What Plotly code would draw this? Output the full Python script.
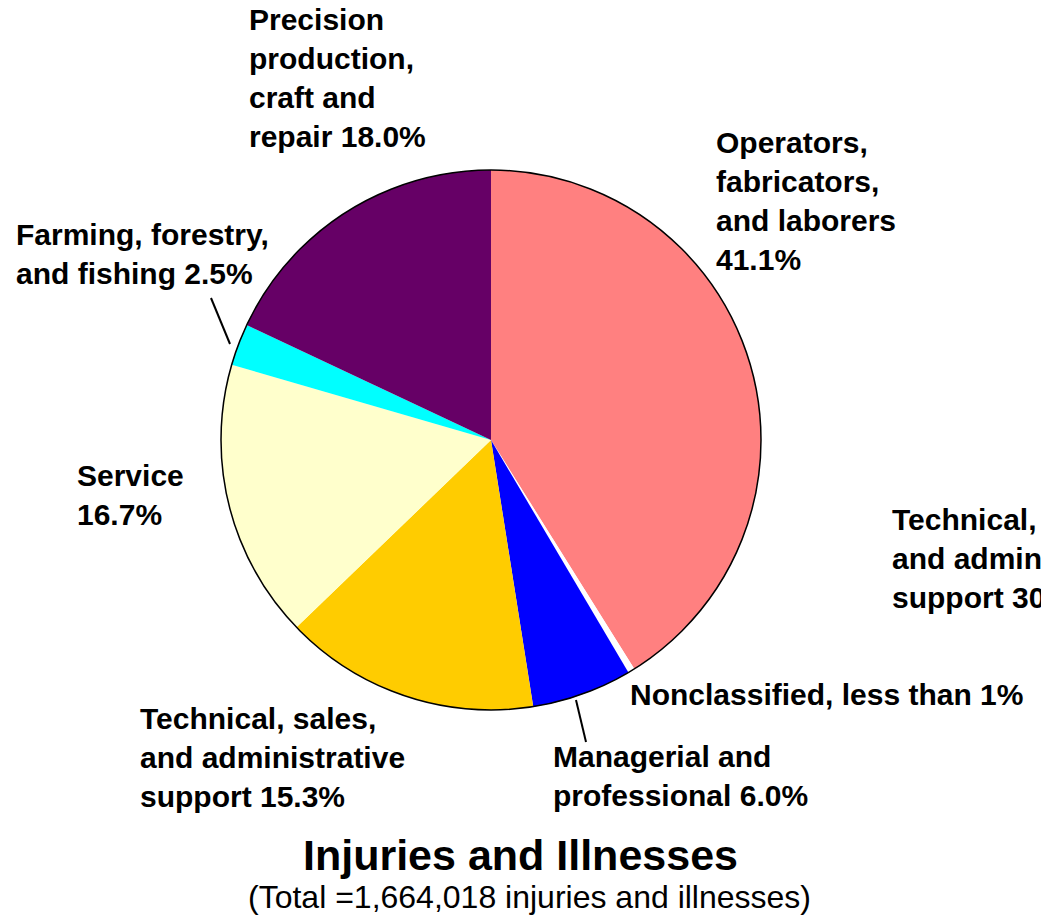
import plotly.graph_objects as go

# occupational groups, clockwise from 12 o'clock
groups = ["Operators, fabricators, and laborers", "Nonclassified",
          "Managerial and professional", "Technical, sales, and administrative support",
          "Service", "Farming, forestry, and fishing", "Precision production, craft and repair"]
shares = [41.1, 0.4, 6.0, 15.3, 16.7, 2.5, 18.0]
colors = ["#FF8080", "#FFFFFF", "#0000FF", "#FFCC00", "#FFFFCC", "#00FFFF", "#660066"]

W, H = 1049, 920
OFF = 8  # page body margin shifts the figure by 8px


def px(x):
    return (x - OFF) / W


def py(y):
    return 1 - (y - OFF) / H


dom_x = [px(221), px(761)]
dom_y = [py(710), py(170)]

fig = go.Figure()
fig.add_trace(go.Pie(labels=groups, values=shares, sort=False, direction="clockwise",
                     rotation=0, marker=dict(colors=colors, line=dict(width=0)),
                     textinfo="none", hoverinfo="label+percent", showlegend=False,
                     domain=dict(x=dom_x, y=dom_y)))
# black rim around the whole pie
fig.add_trace(go.Pie(values=[1], marker=dict(colors=["rgba(0,0,0,0)"], line=dict(color="black", width=1.5)),
                     textinfo="none", hoverinfo="skip", showlegend=False, sort=False,
                     domain=dict(x=dom_x, y=dom_y)))

lab = dict(family="Liberation Sans, Arial, sans-serif", size=30, color="black")

# (text, left x px, middle y px)
labels = [
    ("<b>Precision<br>production,<br>craft and<br>repair 18.0%</b>", 247, 78),
    ("<b>Operators,<br>fabricators,<br>and laborers<br>41.1%</b>", 714, 201),
    ("<b>Farming, forestry,<br>and fishing 2.5%</b>", 14, 254),
    ("<b>Service<br>16.7%</b>", 75, 495),
    ("<b>Technical, sales,<br>and administrative<br>support 15.3%</b>", 138, 757),
    ("<b>Managerial and<br>professional 6.0%</b>", 551, 776),
    ("<b>Nonclassified, less than 1%</b>", 628, 694),
    ("<b>Technical, sales,<br>and administrative<br>support 30.4%</b>", 890, 558),
]
for txt, x, y in labels:
    fig.add_annotation(text=txt, x=px(x), y=py(y), xref="paper", yref="paper",
                       xanchor="left", yanchor="middle", align="left", showarrow=False, font=lab)

fig.add_annotation(text="<b>Injuries and Illnesses</b>", x=px(520), y=py(855),
                   xref="paper", yref="paper", showarrow=False, xanchor="center", yanchor="middle",
                   font=dict(family="Liberation Sans, Arial, sans-serif", size=43, color="black"))
fig.add_annotation(text="(Total =1,664,018 injuries and illnesses)", x=px(529), y=py(897),
                   xref="paper", yref="paper", showarrow=False, xanchor="center", yanchor="middle",
                   font=dict(family="Liberation Sans, Arial, sans-serif", size=32, color="black"))

# leader lines
for x0, y0, x1, y1 in [(211, 298, 230, 344), (576, 700, 586, 742)]:
    fig.add_shape(type="line", x0=px(x0), y0=py(y0), x1=px(x1), y1=py(y1),
                  xref="paper", yref="paper", line=dict(color="black", width=2))

fig.update_layout(width=W, height=H, margin=dict(l=0, r=0, t=0, b=0),
                  paper_bgcolor="white", plot_bgcolor="white")
fig.write_html("out.html")
